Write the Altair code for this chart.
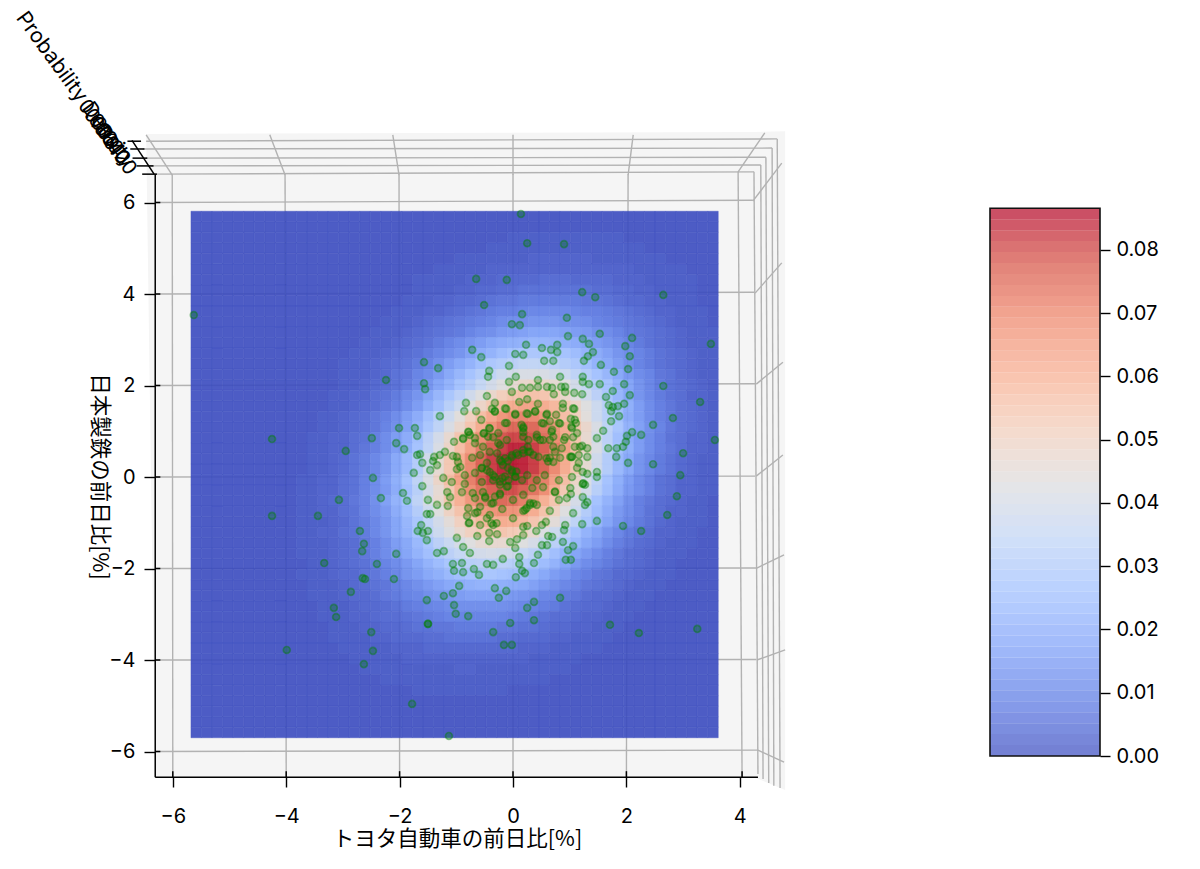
import altair as alt
import pandas as pd

FONT = "Noto Sans CJK JP"
LATIN = "Inter"
X_TITLE = "トヨタ自動車の前日比[%]"
Y_TITLE = "日本製鉄の前日比[%]"
Z_TITLE = "Probability Density"
X_TICKS = [-6, -4, -2, 0, 2, 4]
Y_TICKS = [6, 4, 2, 0, -2, -4, -6]
Z_TICK_LABELS = [("0.08", -7.6, 8.2), ("0.06", -7.5, 8.0), ("0.04", -7.38, 7.82), ("0.02", -7.27, 7.62), ("0.00", -7.16, 7.4)]
BAR_TICKS = [0.0, 0.01, 0.02, 0.03, 0.04, 0.05, 0.06, 0.07, 0.08]
COOLWARM = ["#3b4cc0", "#5977e3", "#7b9ff9", "#9ebeff", "#c0d4f5", "#dddcdc", "#f2cbb7", "#f7ac8e", "#ee8468", "#d65244", "#b40426"]

# Surface estimated by hand from the colour contours of the picture, in thousandths.
# row index: (first column, left half of the row, middle cell or None); each row is roughly symmetric.
SURFACE_ROWS = {
    2: (30, [1]*5, 1),
    3: (28, [1]*7, 1),
    4: (25, [1]*7+[2]*3, None),
    5: (23, [1]*5+[2]*7, None),
    6: (21, [1]*5+[2]*3+[3]*4+[4], 4),
    7: (21, [1,1,1,1,2,2,3,3,4,4,5,5,5], 5),
    8: (20, [1,1,1,2,2,3,3,4,5,6,6,7,7,7], None),
    9: (19, [1,1,1,2,2,3,4,5,6,7,8,8,9,10,10], None),
    10: (18, [1,1,1,2,3,4,5,6,7,8,9,11,12,12,13], 13),
    11: (17, [1,1,1,2,3,4,5,6,7,9,11,12,14,15,16,17], 17),
    12: (16, [1,1,1,2,3,4,5,7,9,11,13,15,17,19,20,21,22], None),
    13: (15, [1,1,1,2,3,4,5,7,9,11,13,16,19,21,24,26,27,28], None),
    14: (14, [1,1,1,2,3,4,5,7,9,12,15,18,21,25,28,30,32,34], 34),
    15: (14, [1,1,1,2,3,5,6,9,11,14,18,22,26,30,33,37,39,41], 41),
    16: (14, [1,1,2,3,4,5,7,10,13,17,21,26,30,35,39,43,46,48], 49),
    17: (13, [1,1,2,2,4,5,7,10,13,17,22,27,32,38,43,48,52,55,56], None),
    18: (13, [1,1,2,3,4,6,8,11,15,20,25,31,37,43,49,54,59,62,64], None),
    19: (12, [1,1,2,3,4,6,8,11,15,19,25,31,37,44,51,57,63,67,70], 71),
    20: (12, [1,1,2,3,4,6,9,12,16,21,27,33,41,48,55,62,68,73,76], 77),
    21: (11, [1,1,2,2,4,5,8,11,15,19,25,32,39,47,55,63,69,75,79,81], None),
    22: (11, [1,1,2,2,4,6,8,11,15,20,26,33,41,49,57,65,72,78,82,85], None),
    23: (11, [1,1,2,3,5,7,10,13,18,23,30,38,46,54,62,70,77,82,85], 86),
    24: (11, [1,1,2,3,5,7,10,13,18,23,30,38,46,54,62,70,77,82,85], 86),
    25: (10, [1,1,2,2,4,5,8,11,15,20,26,33,41,49,57,65,72,78,82,84], None),
    26: (10, [1,1,2,2,4,5,8,11,14,19,25,31,39,46,54,62,69,74,78,80], None),
    27: (10, [1,1,2,3,4,6,8,12,16,21,26,33,40,47,55,61,67,72,75], 76),
    28: (10, [1,1,2,2,4,5,8,11,14,19,24,30,37,43,50,56,62,66,68], 69),
    29: (10, [1,1,1,2,3,5,7,10,13,17,22,27,33,39,45,51,55,59,61], 62),
    30: (10, [1,1,2,2,4,5,7,10,13,17,21,26,32,37,42,47,51,53,55], None),
    31: (10, [1,1,1,2,3,4,6,8,11,15,18,23,27,32,36,40,43,46,47], None),
    32: (10, [1,1,1,2,3,4,6,8,11,14,17,21,25,29,32,35,38,39], 40),
    33: (11, [1,1,2,3,4,5,7,9,11,14,17,21,24,27,29,31,32], 33),
    34: (10, [1,1,1,2,3,3,5,6,8,10,13,15,18,20,23,25,26,27], None),
    35: (11, [1,1,1,2,3,4,5,6,8,10,12,14,16,18,19,20,21], None),
    36: (11, [1,1,1,2,3,3,4,6,7,9,10,12,13,14,15,16], 16),
    37: (12, [1,1,1,2,3,3,4,5,7,8,9,10,11,12,12], 12),
    38: (12, [1,1,1,2,2,3,4,4,5,6,7,8,9,9,9], None),
    39: (13, [1,1,1,2,2,3,3,4,5,5,6,6,7,7], None),
    40: (13, [1,1,1,1,2,2,3,3,3,4,4,5,5], 5),
    41: (14, [1,1,1,1,1,2,2,2,3,3,3,3], 3),
    42: (15, [1]*5+[2]*6, None),
    43: (16, [1]*9+[2], None),
    44: (18, [1]*8, None),
    45: (21, [1]*4, 1),
}
GRID_SIZE = 50
GRID_X = (-5.68, 3.62)
GRID_Y = (5.81, -5.70)

RETURNS = [
(-5.63,3.54),(-1.57,2.51),(-1.32,2.38),(-2.24,2.12),(-1.57,2.05),(-1.55,1.92),(-1.29,1.33),(-2.01,1.07),(-1.73,1.07),(-1.69,0.90),(-4.25,0.83),(-2.49,0.85),
(0.14,5.75),(0.25,5.11),(0.90,5.09),(-0.65,4.33),(-0.11,4.31),(1.22,4.04),(1.45,3.93),(2.65,3.98),(-0.51,3.76),(0.16,3.56),(-0.02,3.34),(0.12,3.32),(0.95,3.48),
(0.97,3.08),(1.53,3.13),(1.23,3.02),(1.34,2.91),(2.10,3.04),(1.98,2.86),(3.49,2.91),(0.23,2.89),(0.78,2.89),(0.51,2.82),(0.67,2.78),(0.78,2.73),(1.41,2.73),(-0.72,2.78),
(-0.56,2.62),(0.04,2.69),(0.18,2.67),(1.32,2.64),(2.06,2.64),(0.55,2.54),(0.71,2.54),(1.25,2.54),(1.55,2.45),(-0.07,2.43),(2.03,2.36),(1.78,2.30),(-0.42,2.32),(-0.44,2.19),
(0.05,2.19),(-0.07,2.08),(0.44,2.12),(0.83,2.19),(1.23,2.19),(1.23,2.08),(1.34,2.03),(1.53,2.03),(1.96,2.03),(2.65,1.99),(0.44,1.97),(0.16,1.95),(0.30,1.95),(0.60,1.97),
(0.69,1.95),(0.85,1.97),(0.92,1.97),(-0.02,1.86),(0.92,1.86),(0.72,1.81),(1.08,1.84),(1.22,1.81),(1.76,1.88),(2.06,1.79),(1.64,1.75),(-0.46,1.77),(0.25,1.70),(0.11,1.64),
(3.30,1.64),(-0.83,1.62),(-0.32,1.62),(0.44,1.60),(0.88,1.60),(0.88,1.51),(1.69,1.57),(1.85,1.55),(1.96,1.60),(1.76,1.53),(1.73,1.44),(1.08,1.49),(-0.65,1.44),(-0.86,1.44),
(-0.37,1.49),(-0.32,1.44),(-0.12,1.49),(0.39,1.44),(0.26,1.38),(0.04,1.38),(0.60,1.38),(0.76,1.36),(1.87,1.33),(2.82,1.29),(1.73,1.22),(-0.56,1.25),(1.02,1.27),(0.65,1.22),
(0.51,1.18),(0.81,1.18),(-0.14,1.18),(1.11,1.18),(2.47,1.14),(1.59,1.01),(2.10,0.98),(2.26,0.92),(2.01,0.90),(1.48,0.85),(3.56,0.81),(-0.78,0.98),(-0.42,1.07),(-0.51,0.96),
(-0.26,0.96),(-0.11,1.18),(0.18,1.09),(0.18,0.98),(0.42,0.92),(0.69,1.03),(0.92,0.87),(1.04,1.07),(1.13,0.96),(1.06,0.87),(-0.88,0.85),
(-2.06,0.74),(-1.92,0.61),(-1.69,0.48),(-1.64,0.50),(-1.60,0.31),(-1.75,0.09),(-1.46,0.15),(-1.39,0.44),(-1.41,0.35),(-1.29,0.48),(-1.20,0.55),(-1.34,0.26),(-1.04,0.77),
(-0.88,0.83),(-1.06,0.46),(-0.99,0.44),(-0.97,0.33),(-0.93,0.22),(-0.99,0.17),(-1.23,-0.02),(-1.08,-0.11),(-0.85,0.04),(-1.60,-0.20),(-0.85,-0.15),(-0.90,-0.33),(-1.16,-0.33),
(-1.11,-0.44),(-1.15,-0.63),(-1.94,-0.35),(-1.87,-0.52),(-1.50,-0.50),(-1.34,-0.61),(-1.52,-0.81),(-1.46,-0.81),(-1.62,-1.05),(-1.68,-1.18),(-1.59,-1.22),(-1.50,-1.18),(-1.52,-1.38),
(-0.99,-1.33),(-0.88,-1.53),(-1.34,-1.66),(-1.22,-1.62),(-0.76,-1.66),(-2.06,-1.68),(-1.06,-1.90),(-0.90,-1.88),(-1.04,-2.05),(-0.88,-2.08),(-0.69,-2.01),(-0.60,-2.14),(-2.10,-2.23),
(-0.46,-1.90),(-0.35,-1.92),(-0.18,-1.79),(0.11,-1.75),(0.11,-1.90),(0.37,-1.88),(0.44,-1.70),(0.16,-2.05),(0.21,-2.10),(0.05,-2.19),(0.93,-1.81),(1.02,-1.81),(0.97,-1.60),(1.06,-1.51),
(0.88,-1.42),(0.51,-1.49),(0.60,-1.49),(0.62,-1.29),(0.69,-1.31),(0.04,-1.55),(-0.05,-1.42),(0.07,-1.36),(-0.42,-1.40),(-0.28,-1.25),(-0.42,-1.22),(-0.63,-1.29),(0.18,-1.27),(0.18,-1.09),
(0.25,-1.07),(0.41,-1.18),(0.51,-1.05),(0.58,-0.98),(0.90,-1.16),(0.92,-1.05),(1.22,-1.03),(1.48,-0.96),(1.94,-1.07),(2.26,-1.18),(1.06,-0.79),(0.65,-0.74),(1.27,-0.61),(1.31,-0.55),
(1.23,-0.44),(1.23,-0.15),(1.48,0.11),(1.48,0.0),(2.03,0.31),(2.47,0.28),(1.82,0.44),(1.68,0.63),(1.83,0.63),(1.94,0.66),(1.99,0.77),(1.31,0.63),(1.22,0.68),(1.09,0.66),(1.31,0.44),
(1.16,0.48),(1.16,0.31),(1.04,0.44),(1.04,0.0),(1.13,0.20),(1.23,0.11),(1.31,0.07),(1.01,-0.24),(1.02,-0.37),(0.95,-0.46),(0.81,-0.07),(0.81,-0.50),(0.74,-0.33),(0.56,0.04),(0.53,-0.22),
(0.42,-0.07),(0.65,0.42),(0.71,0.33),(0.83,0.42),(0.74,0.55),(0.86,0.63),(1.01,0.44),(0.90,0.81),(0.71,0.66),(0.65,0.81),(0.48,0.81),(0.42,0.87),(0.26,0.66),(0.30,0.55),(0.18,0.59),
(0.09,0.48),(-0.02,0.44),(-0.23,0.37),(-0.09,0.35),(-0.18,0.26),(-0.28,0.52),(-0.41,0.55),(-0.53,0.66),(-0.67,0.74),(-0.76,0.92),(-0.35,0.87),(-0.11,0.81),(-0.26,0.74),(-0.58,0.48),
(-0.72,0.42),(-0.55,0.20),(-0.46,0.31),(-0.41,0.11),(-0.32,0.0),(-0.09,0.20),(-0.19,-0.02),(0.04,0.0),(-0.02,0.11),(0.25,0.04),(0.16,-0.07),(-0.09,-0.20),(-0.23,-0.17),(-0.35,-0.07),
(-0.55,-0.11),(-0.67,0.09),(-0.71,-0.35),(-0.53,-0.33),(-0.49,-0.46),(-0.23,-0.39),(-0.35,-0.57),(-0.19,-0.70),(0.0,-0.50),(0.18,-0.39),(0.34,-0.24),(0.30,-0.57),(0.21,-0.72),(0.42,-0.61),
(-0.63,-0.77),(-0.79,-0.68),(-0.81,-0.85),(-0.78,-1.01),(-0.58,-1.05),(-0.46,-0.90),(-0.35,-1.05),(-0.41,-0.83),(0.0,-0.90),(-0.67,-0.46),
(-2.70,-1.18),(-2.63,-1.46),(-2.66,-1.62),(-3.33,-1.88),(-2.40,-1.90),(-2.65,-2.21),(-2.61,-2.23),(-2.86,-2.51),(-1.52,-2.69),(-1.22,-2.60),(-1.06,-2.54),(-0.95,-2.38),(-1.04,-2.80),
(-1.01,-2.99),(-3.16,-2.86),(-3.12,-3.06),(-1.50,-3.21),(-1.50,-3.21),(-2.50,-3.39),(-2.47,-3.80),(-3.99,-3.78),(-2.63,-4.09),(-1.78,-4.96),(-1.13,-5.66),(-4.25,-0.85),(-3.44,-0.85),
(-2.95,0.57),(-3.07,-0.50),(-2.47,-0.02),(-2.33,-0.46),
(-0.79,-3.04),(-0.32,-2.43),(-0.12,-2.49),(-0.25,-2.64),(0.37,-2.73),(0.25,-2.86),(0.83,-2.64),(0.37,-3.13),(-0.05,-3.19),(-0.35,-3.39),(-0.16,-3.67),(-0.02,-3.67),(1.71,-3.23),(2.22,-3.41),
(3.25,-3.32),(2.72,-0.83),(2.89,-0.42),(3.0,0.52),(2.95,0.04),
(-0.20,0.34),(-0.14,0.41),(-0.02,0.48),(0.06,0.52),(0.18,0.52),(0.27,0.55),(0.36,0.48),(0.45,0.44),(0.18,0.88),(0.27,0.81),(0.18,1.06),(0.15,1.14),(0.54,1.17),(0.59,1.36),(0.68,0.99),(0.71,0.88),
(0.83,1.17),(1.03,1.10),(1.09,1.25),(1.06,1.50),(0.39,1.43),(0.24,1.39),(0.04,1.36),(-0.32,1.43),(-0.14,1.50),(-0.41,1.06),(-0.52,0.95),(-0.79,0.99),(-0.67,0.85),(-0.44,0.88),(-0.23,0.70),(-0.55,0.19),
(-0.46,0.15),(-0.35,0.04),(-0.23,-0.10),(-0.11,-0.21),(0.04,0.01),(0.06,0.12),(-0.23,-0.36),(-0.32,-0.43),(-0.49,-0.43),(-0.58,-0.65),(-0.38,-0.58),(0.30,-0.61),(0.24,-0.68),(0.36,-0.58),(0.18,-0.74),
(-0.77,-1.0),(-0.67,-0.79),(-0.38,-1.01),(-0.29,-1.01),(0.74,-0.32),(1.03,0.44),(1.18,0.66),(1.24,-0.14),(1.27,-0.17),(0.59,0.41),(0.62,0.34),(0.53,0.81),(-0.02,0.15),(-0.08,-0.07),(-0.14,0.01),
]

# pane outline: x, upper edge, lower edge
PANE = [(-6.47, 7.50, 7.50), (-6.31, 7.50, -6.56), (4.25, 7.54, -6.56), (4.80, 7.56, -6.84)]
# grid segments on the three panes: x1, y1, x2, y2
GRID_LINES = [
    (-6.47,7.34,4.66,7.39),(-6.53,7.17,4.57,7.19),(-6.47,6.97,4.46,6.99),(-6.40,6.80,4.37,6.82),(-6.31,6.62,4.25,6.67),
    (4.66,7.39,4.71,-6.80),(4.57,7.19,4.60,-6.75),(4.46,6.99,4.51,-6.69),(4.37,6.82,4.41,-6.60),(4.25,6.67,4.32,-6.49),
    (-6.01,6.62,-6,-6.56),(-4.02,6.62,-4,-6.56),(-2.01,6.62,-2,-6.56),(0,6.62,0,-6.56),(2.03,6.62,2,-6.56),(3.97,6.67,4.04,-6.56),
    (-6.01,6.60,-6.47,7.48),(-4.02,6.60,-4.29,7.48),(-2.01,6.60,-2.12,7.48),(0,6.60,0,7.48),(2.03,6.60,2.12,7.48),(3.97,6.67,4.44,7.52),
    (-6.31,6,4.23,6.05),(-6.31,4,4.25,4.04),(-6.31,2,4.27,2.04),(-6.31,0,4.27,0.02),(-6.31,-2,4.29,-1.99),(-6.31,-4,4.29,-3.99),(-6.31,-6,4.32,-5.97),
    (4.23,6.03,4.74,6.86),(4.27,4.02,4.74,4.68),(4.29,2.03,4.76,2.51),(4.29,0.02,4.76,0.48),(4.30,-1.99,4.78,-1.70),(4.30,-4.0,4.80,-3.78),(4.32,-5.97,4.78,-6.23),
]
# axis lines and the inner halves of the ticks
SPINES = [
    (-6.31,-6.56,4.32,-6.56),(-6.31,-6.56,-6.31,6.62),(-6.33,6.62,-6.72,7.36),
    (-6.0,-6.56,-6.0,-6.43),(-4.0,-6.56,-4.0,-6.43),(-2.0,-6.56,-2.0,-6.43),(0,-6.56,0,-6.43),(2.0,-6.56,2.0,-6.43),(4.04,-6.56,4.04,-6.43),
    (-6.31,6,-6.22,6),(-6.31,4,-6.22,4),(-6.31,2,-6.22,2),(-6.31,0,-6.22,0),(-6.31,-2,-6.22,-2),(-6.31,-4,-6.22,-4),(-6.31,-6,-6.22,-6),
    (-6.80,7.34,-6.56,7.34),(-6.75,7.17,-6.50,7.17),(-6.71,6.97,-6.45,6.97),(-6.64,6.80,-6.34,6.80),(-6.54,6.62,-6.28,6.62),
]

DOMAIN_MAX = 0.0866
x_scale = alt.Scale(domain=[-6.314, 4.797], nice=False, zero=False)
y_scale = alt.Scale(domain=[-6.557, 7.585], nice=False, zero=False)
color_scale = alt.Scale(domain=[0, DOMAIN_MAX], range=COOLWARM, interpolate="rgb")

dx = (GRID_X[1] - GRID_X[0]) / GRID_SIZE
dy = (GRID_Y[1] - GRID_Y[0]) / GRID_SIZE
surface = [[0]*GRID_SIZE for _ in range(GRID_SIZE)]
for r, (start, left, mid) in SURFACE_ROWS.items():
    full = left + ([mid] if mid is not None else []) + left[::-1]
    for k, v in enumerate(full):
        if start + k < GRID_SIZE:
            surface[r][start + k] = v
cells = pd.DataFrame([
    {"x": GRID_X[0] + c*dx, "x2": GRID_X[0] + (c+1)*dx,
     "y": GRID_Y[0] + r*dy, "y2": GRID_Y[0] + (r+1)*dy, "v": v/1000}
    for r, row in enumerate(surface) for c, v in enumerate(row)
])
points = pd.DataFrame(RETURNS, columns=["x", "y"])
pane = pd.DataFrame(PANE, columns=["x", "y", "y2"])
grid = pd.DataFrame(GRID_LINES, columns=["x", "y", "x2", "y2"])
spines = pd.DataFrame(SPINES, columns=["x", "y", "x2", "y2"])
ztext = pd.DataFrame(Z_TICK_LABELS, columns=["t", "x", "y"])
ztitle = pd.DataFrame([{"t": Z_TITLE, "x": -7.72, "y": 8.46}])

axis_common = dict(domain=False, grid=False, labelFont=LATIN, labelFontSize=20, labelColor="#000000",
                   titleFont=FONT, titleFontSize=21.5, titleFontWeight="normal", titleColor="#000000",
                   tickColor="#000000", tickWidth=1.4, zindex=1)
x_axis = alt.Axis(values=X_TICKS, title=X_TITLE, tickSize=10, labelPadding=19, titleX=302, titleY=51, **axis_common)
y_axis = alt.Axis(values=Y_TICKS, title=Y_TITLE, tickSize=11, labelPadding=9, titleX=-68, titleY=346, titleAngle=90, **axis_common)

def X(field="x"):
    return alt.X(f"{field}:Q", scale=x_scale, axis=x_axis)

def Y(field="y"):
    return alt.Y(f"{field}:Q", scale=y_scale, axis=y_axis)

pane_layer = alt.Chart(pane).mark_area(color="#f5f5f5").encode(x=X(), y=Y(), y2="y2:Q")

def segments(df, color, width):
    return alt.Chart(df).mark_rule(color=color, strokeWidth=width).encode(x=X(), x2="x2:Q", y=Y(), y2="y2:Q")

heat = alt.Chart(cells).mark_rect(opacity=0.9, strokeWidth=0.4).encode(
    x=X(), x2="x2:Q", y=Y(), y2="y2:Q",
    color=alt.Color("v:Q", scale=color_scale, legend=None),
    stroke=alt.Color("v:Q", scale=color_scale, legend=None),
)
dots = alt.Chart(points).mark_circle(size=48, color="#008000", fillOpacity=0.3, stroke="#008000", strokeOpacity=0.42, strokeWidth=1.7).encode(x=X(), y=Y())
z_labels = alt.Chart(ztext).mark_text(angle=54, font=LATIN, fontSize=20, color="#000000", align="left", baseline="middle").encode(x=X(), y=Y(), text="t:N")
z_title = alt.Chart(ztitle).mark_text(angle=54, font=LATIN, fontSize=21, color="#000000", align="center", baseline="middle").encode(x=X(), y=Y(), text="t:N")

main = alt.layer(pane_layer, segments(grid, "#b2b2b2", 1.4), heat, dots,
                 segments(spines, "#000000", 1.5), z_labels, z_title).properties(width=630, height=647)

# colour bar
BANDS = 50
bands = pd.DataFrame([{"x": 0, "x2": 1, "y": DOMAIN_MAX*i/BANDS, "y2": DOMAIN_MAX*(i+1)/BANDS, "v": DOMAIN_MAX*(i+0.5)/BANDS} for i in range(BANDS)])
frame = pd.DataFrame([{"x": 0, "x2": 1, "y": 0, "y2": DOMAIN_MAX}])
bar_y = alt.Scale(domain=[-0.00332, 0.09897], nice=False, zero=False)
bar_x = alt.Scale(domain=[0, 1], nice=False, zero=False)
bar_y_axis = alt.Axis(orient="right", values=BAR_TICKS, format=".2f", title=None, tickSize=10, labelPadding=6, domain=False, grid=False,
                      labelFont=LATIN, labelFontSize=20, labelColor="#000000", tickColor="#000000", tickWidth=1.4)
bar = alt.layer(
    alt.Chart(bands).mark_rect(opacity=0.72).encode(
        x=alt.X("x:Q", scale=bar_x, axis=None), x2="x2:Q",
        y=alt.Y("y:Q", scale=bar_y, axis=bar_y_axis), y2="y2:Q",
        color=alt.Color("v:Q", scale=color_scale, legend=None),
    ),
    alt.Chart(frame).mark_rect(fillOpacity=0, stroke="#111111", strokeWidth=1.6).encode(
        x=alt.X("x:Q", scale=bar_x, axis=None), x2="x2:Q",
        y=alt.Y("y:Q", scale=bar_y, axis=bar_y_axis), y2="y2:Q",
    ),
).properties(width=110, height=647)

chart = alt.hconcat(main, bar, spacing=203).properties(padding={"left": 4, "top": 0, "right": 0, "bottom": 0}).configure_view(stroke=None)
chart.save("out.html", embed_options={"renderer": "svg", "actions": False})
